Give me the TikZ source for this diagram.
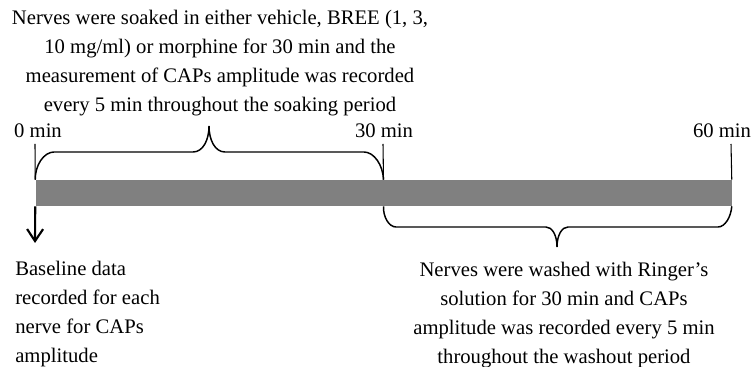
\documentclass[tikz,border=0pt]{standalone}
\usepackage{fontspec}
\setmainfont{Liberation Serif}
\usetikzlibrary{arrows.meta}

\begin{document}
\begin{tikzpicture}[x=0.75pt,y=0.75pt,>={Straight Barb[length=9pt,width=12pt]},
    font=\fontsize{15.5}{21.75}\selectfont]
    \tikzset{
        bar/.style={
            fill=black!50,
            minimum width=522pt,
            minimum height=19.5pt,
            inner sep=0pt
        },
        label/.style={inner sep=0pt},
        note/.style={inner sep=0pt,align=center},
        tick/.style={line width=0.8pt},
        curly/.style={line width=1.1pt}
    }
    \useasboundingbox (0,0) rectangle (752,367);

    % time line
    \node[bar] (bar) at (383.5,174) {};

    \node[label] (l0) at (38,236) {0 min};
    \node[label] (l30) at (384,236) {30 min};
    \node[label] (l60) at (722,236) {60 min};

    \coordinate (t0) at (35,223);
    \coordinate (t30) at (383,223);
    \coordinate (t60) at (731,223);
    \draw[tick] (bar.north west) -- (t0);
    \draw[tick] (bar.north) -- (t30);
    \draw[tick] (bar.north east) -- (t60);

    % soaking period
    \draw[curly] (bar.north west) .. controls (35,202) and (44,215) .. (54,215)
        -- (193,215) .. controls (203,215) and (209,227) .. (209,241)
        .. controls (209,227) and (215,215) .. (225,215)
        -- (364,215) .. controls (374,215) and (383,202) .. (bar.north);
    \node[note] (soak) at (220,304)
        {Nerves were soaked in either vehicle, BREE (1, 3,\\
         10 mg/ml) or morphine for 30 min and the\\
         measurement of CAPs amplitude was recorded\\
         every 5 min throughout the soaking period};

    % washout period
    \draw[curly] (bar.south) .. controls (383,150) and (389,140) .. (396,140)
        -- (546,140) .. controls (552,140) and (557,132) .. (557,120)
        .. controls (557,132) and (562,140) .. (568,140)
        -- (718,140) .. controls (725,140) and (731,150) .. (bar.south east);
    \node[note] (wash) at (564,52)
        {Nerves were washed with Ringer’s\\
         solution for 30 min and CAPs\\
         amplitude was recorded every 5 min\\
         throughout the washout period};

    % baseline
    \coordinate (down) at (35,124);
    \draw[->,line width=1.6pt] (bar.south west) -- (down);
    \node[note,align=left,anchor=west] (base) at (15,53)
        {Baseline data\\
         recorded for each\\
         nerve for CAPs\\
         amplitude};
\end{tikzpicture}
\end{document}
